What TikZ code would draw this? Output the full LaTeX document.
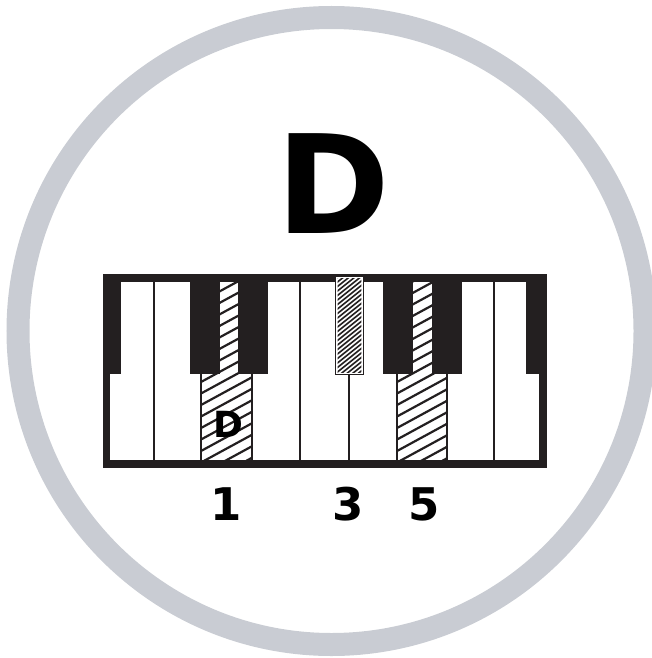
\documentclass[tikz,border=0pt]{standalone}
\usepackage{fontspec}
\setmainfont{DejaVu Sans}
\definecolor{ring}{HTML}{C9CCD3}
\definecolor{ink}{HTML}{231F20}
\tikzset{
  blackkey/.style={fill=ink, draw=none},
  sep/.style={draw=ink, line width=2pt},
  hatchline/.style={draw=ink, line width=2.2pt},
  densehatch/.style={draw=ink, line width=1.6pt},
  lbl/.style={font=\bfseries, text=black, inner sep=0pt}
}
\begin{document}
\begin{tikzpicture}[x=1pt,y=-1pt]
\useasboundingbox (0,0) rectangle (652,658);
% ring
\draw[ring, line width=23pt] (331.5,331) circle[radius=313.5];
% title
\node[lbl, font=\fontsize{137}{137}\bfseries\selectfont, anchor=base] (title) at (333.5,233) {D};
% keyboard frame
\fill[ink] (103,274) rectangle (547,468);
\fill[white] (110,282) rectangle (539,460);
% hatched white keys
\begin{scope}
  \clip (201,282) rectangle (252,460);
  \foreach \c in {250,261.5,...,560} \draw[hatchline] (190,\c) -- (280,\c-49);
\end{scope}
\begin{scope}
  \clip (397,282) rectangle (447,460);
  \foreach \c in {250,261.5,...,560} \draw[hatchline] (386,\c) -- (476,\c-49);
\end{scope}
% separators
\foreach \x in {154,201,252,300,397,447,494} \draw[sep] (\x,282) -- (\x,460);
\draw[sep] (349,374) -- (349,460);
% black keys
\fill[blackkey] (110,282) rectangle (121,374);
\fill[blackkey] (190,282) rectangle (220,374);
\fill[blackkey] (238,282) rectangle (268,374);
\fill[blackkey] (383,282) rectangle (413,374);
\fill[blackkey] (432,282) rectangle (462,374);
\fill[blackkey] (526,282) rectangle (539,374);
% F# hatched black key
\fill[ink] (335,276) rectangle (364,375);
\fill[white] (336.2,277.2) rectangle (362.8,373.8);
\begin{scope}
  \clip (337.6,278.6) rectangle (361.4,372.4);
  \fill[white] (337.6,278.6) rectangle (361.4,372.4);
  \foreach \c in {270,274.5,...,420} \draw[densehatch] (330,\c) -- (370,\c-32);
\end{scope}
% labels
\node[lbl, font=\fontsize{36}{36}\bfseries\selectfont, anchor=base] (dlabel) at (228,437) {D};
\node[lbl, font=\fontsize{45}{45}\bfseries\selectfont, anchor=base] (n1) at (226,520) {1};
\node[lbl, font=\fontsize{45}{45}\bfseries\selectfont, anchor=base] (n3) at (348.5,520) {3};
\node[lbl, font=\fontsize{45}{45}\bfseries\selectfont, anchor=base] (n5) at (424,520) {5};
\end{tikzpicture}
\end{document}
